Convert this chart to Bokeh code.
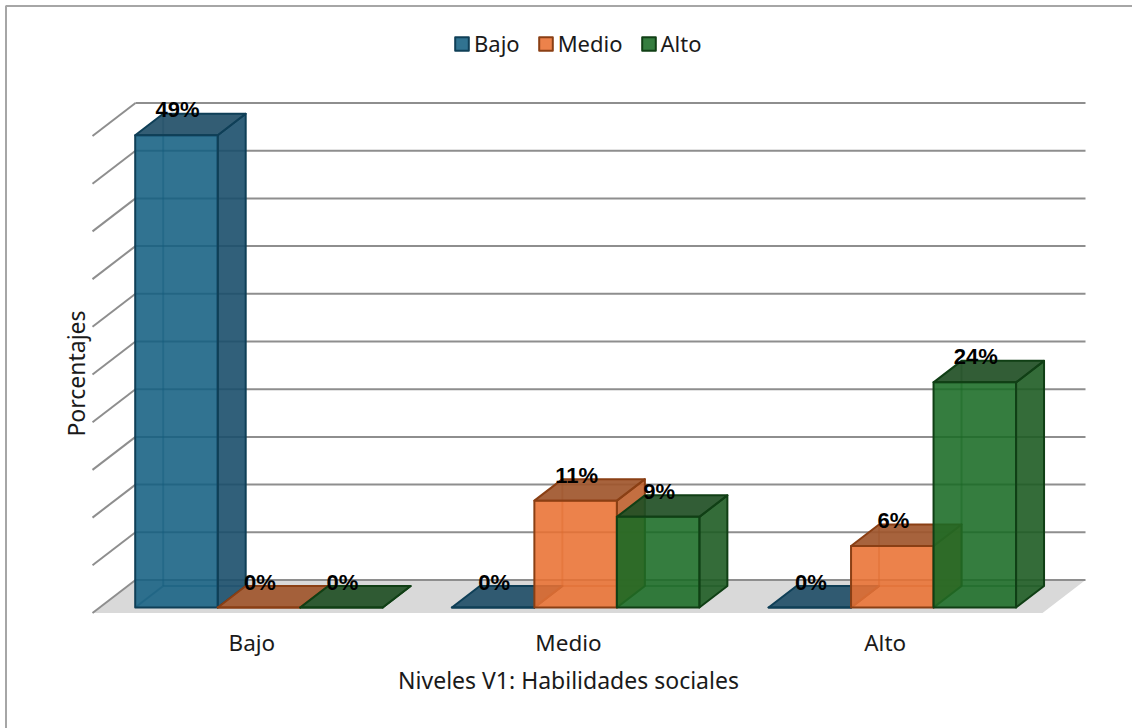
import math
from bokeh.plotting import figure
from bokeh.embed import file_html
from bokeh.resources import INLINE
from bokeh.models import Legend, LegendItem, Range1d
from bokeh.core.properties import value

categories = ["Bajo", "Medio", "Alto"]
series_names = ["Bajo", "Medio", "Alto"]
bajo_vals = [49.5, 0, 0]
medio_vals = [0, 11.2, 6.45]
alto_vals = [0, 9.5, 23.6]
bajo_labels = ["49%", "0%", "0%"]
medio_labels = ["0%", "11%", "6%"]
alto_labels = ["0%", "9%", "24%"]
grid_ticks = [0, 5, 10, 15, 20, 25, 30, 35, 40, 45, 50]
x_title = "Niveles V1: Habilidades sociales"
y_title = "Porcentajes"

front_cols = ["#156082", "#E97132", "#196B24"]
top_cols = ["#224F68", "#A0562C", "#214F25"]
side_cols = ["#1B4F6B", "#BE5F2C", "#1E5C24"]
edge_cols = ["#0F3F57", "#8A3F14", "#103F15"]

FONT = "Noto Sans"
INK = "#1a1a1a"
GRID = "#8E8E8E"
W, H = 1132, 728

# scale: one category = 316.67 px, one percent = 9.54 px
PX_X = 316.67
PX_Y = 9.54
ORIGIN_X = 92           # pixel column of the front-left corner of the floor
BASE_Y = 607            # pixel row of 0 % on the bars' front
FLOOR_PX = 612.5


def col(px):
    return (px - ORIGIN_X) / PX_X


def row(px):
    return (BASE_Y - px) / PX_Y


p = figure(width=W, height=H, output_backend="svg", toolbar_location=None,
           x_range=Range1d(col(0), col(W)), y_range=Range1d(row(H), row(0)),
           min_border_left=0, min_border_right=0, min_border_top=0, min_border_bottom=0)
p.outline_line_color = None
p.grid.visible = False
p.axis.visible = False
p.background_fill_color = "white"

# chart area edge, visible on top and left only
p.line([col(5.5), col(5.5), col(W)], [row(H), row(5.5), row(5.5)],
       line_color="#A6A6A6", line_width=2)

# depth of the whole box and of the bars, in data units
BOX_DX = 43 / PX_X
BOX_DY = 33 / PX_Y
FLOOR_Y = row(FLOOR_PX)
BAR_DX = 28 / PX_X
BAR_DY = 21.5 / PX_Y
BAR_W = 82.5 / PX_X
BAR_LEAD = 42.7 / PX_X
N = len(categories)

# floor
p.patch([0, N, N + BOX_DX, BOX_DX],
        [FLOOR_Y, FLOOR_Y, FLOOR_Y + BOX_DY, FLOOR_Y + BOX_DY],
        fill_color="#D9D9D9", line_color=None)

# gridlines: back wall and left wall
back_y = [FLOOR_Y + BOX_DY + t for t in grid_ticks]
p.multi_line([[BOX_DX, N + BOX_DX] for _ in back_y], [[y, y] for y in back_y],
             line_color=GRID, line_width=2)
p.multi_line([[0, BOX_DX] for _ in back_y], [[y - BOX_DY, y] for y in back_y],
             line_color=GRID, line_width=2)

all_vals = [bajo_vals, medio_vals, alto_vals]
all_labels = [bajo_labels, medio_labels, alto_labels]
legend_items = []
for s, (vals, name) in enumerate(zip(all_vals, series_names)):
    x0 = [g + BAR_LEAD + s * BAR_W for g in range(N)]
    x1 = [x + BAR_W for x in x0]
    # hidden edges
    hx, hy = [], []
    for a, b, v in zip(x0, x1, vals):
        if v <= 0:
            continue
        hx += [[a + BAR_DX, a + BAR_DX], [a + BAR_DX, b + BAR_DX], [a, a + BAR_DX]]
        hy += [[BAR_DY, v + BAR_DY], [BAR_DY, BAR_DY], [0, BAR_DY]]
    p.multi_line(hx, hy, line_color=edge_cols[s], line_width=2, line_alpha=0.45)
    # side faces
    p.patches([[b, b + BAR_DX, b + BAR_DX, b] for b in x1],
              [[0, BAR_DY, v + BAR_DY, v] for v in vals],
              fill_color=side_cols[s], fill_alpha=0.9, line_color=edge_cols[s], line_width=2,
              line_join="round")
    # top faces
    p.patches([[a, b, b + BAR_DX, a + BAR_DX] for a, b in zip(x0, x1)],
              [[v, v, v + BAR_DY, v + BAR_DY] for v in vals],
              fill_color=top_cols[s], fill_alpha=0.92, line_color=edge_cols[s], line_width=2,
              line_join="round")
    # front faces
    front = p.patches([[a, b, b, a] for a, b in zip(x0, x1)],
                      [[0, 0, v, v] for v in vals],
                      fill_color=front_cols[s], fill_alpha=0.88, line_color=edge_cols[s], line_width=2,
                      line_join="round")
    legend_items.append(LegendItem(label=name, renderers=[front]))

# data labels
for s, (vals, labels) in enumerate(zip(all_vals, all_labels)):
    xs = [g + BAR_LEAD + (s + 0.5) * BAR_W for g in range(N)]
    p.text(xs, vals, text=labels, text_font=value("Liberation Sans"), text_font_style="bold",
           text_font_size="22px", text_color="black", text_align="center",
           text_baseline="middle", x_offset=1, y_offset=-25.5)

legend = Legend(items=legend_items, orientation="horizontal", location=(453, H - 58),
                background_fill_alpha=0, border_line_color=None, margin=0, padding=0,
                glyph_width=17, glyph_height=17, label_standoff=4, spacing=17,
                label_text_font=FONT, label_text_font_size="22px", label_text_color=INK)
p.add_layout(legend, "center")

# category labels and axis titles
p.text([g + 0.5 for g in range(N)], [row(642)] * N, text=categories,
       text_font=value(FONT), text_font_size="22.5px", text_color=INK,
       text_align="center", text_baseline="middle", x_offset=1)
p.text([N / 2], [row(679)], text=[x_title],
       text_font=value(FONT), text_font_size="23px", text_color=INK,
       text_align="center", text_baseline="middle", x_offset=1)
p.text([col(75)], [row(373)], text=[y_title], angle=math.pi / 2,
       text_font=value(FONT), text_font_size="23px", text_color=INK,
       text_align="center", text_baseline="middle")

open("out.html", "w").write(file_html(p, INLINE))
